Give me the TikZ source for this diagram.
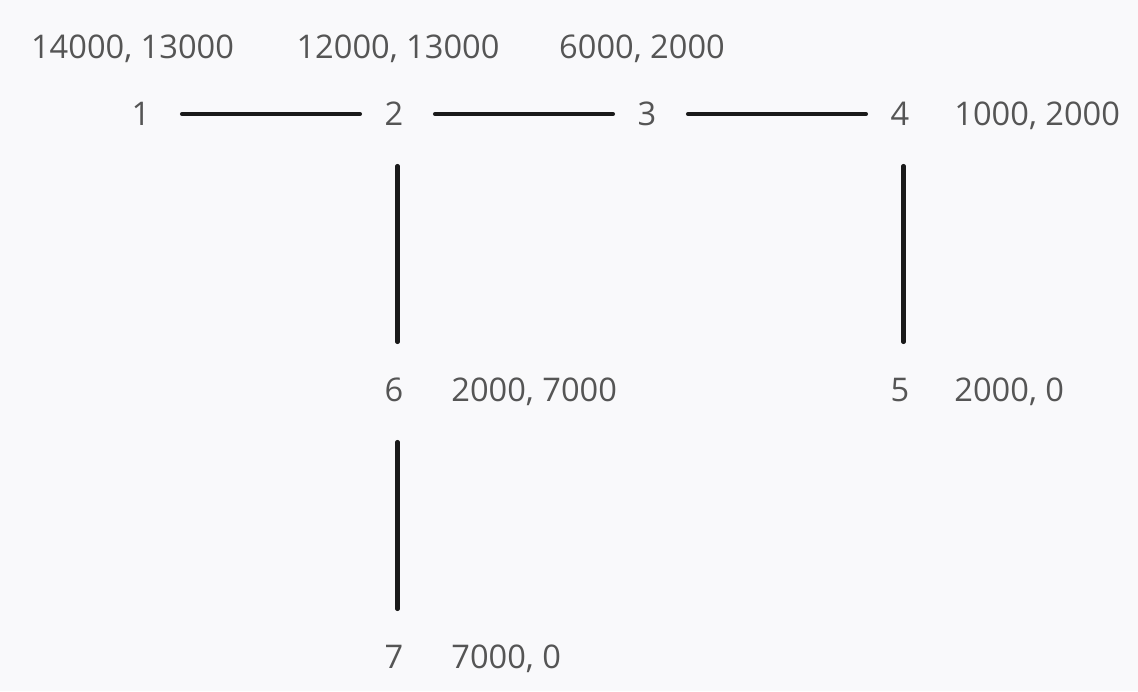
\documentclass[tikz,border=0pt]{standalone}
\usepackage{fontspec}
\setmainfont{Open Sans}
\usepackage{xcolor}
\usetikzlibrary{positioning}
\definecolor{bgcol}{HTML}{F9F9FB}
\definecolor{labelgray}{HTML}{555555}
\definecolor{linkblack}{HTML}{1A1A1A}

\begin{document}
\begin{tikzpicture}[node distance=253pt, auto, font=\fontsize{32.6}{39}\selectfont,
		vertex/.style={text=labelgray, minimum width=68pt, minimum height=96pt, inner sep=0pt},
		coords/.style={text=labelgray, inner sep=0pt, text depth=0pt},
		link/.style={draw=linkblack, line width=4.5pt, line cap=round}]
		% Background
		\fill[bgcol] (0,0) rectangle (1138pt,691pt);
		\useasboundingbox (0,0) rectangle (1138pt,691pt);

		% Top row
		\node[vertex] (n1) at (141pt,577pt) {1};
		\node[vertex, right of=n1] (n2) {2};
		\node[vertex, right of=n2] (n3) {3};
		\node[vertex, right of=n3] (n4) {4};

		% Lower nodes
		\node[vertex, below of=n2, yshift=-23pt] (n6) {6};
		\node[vertex, below of=n4, yshift=-23pt] (n5) {5};
		\node[vertex, below of=n6, yshift=-14pt] (n7) {7};

		% Coordinate labels
		\node[coords, node distance=67.5pt, above of=n1, xshift=-8.5pt] (c1) {14000, 13000};
		\node[coords, node distance=67.5pt, above of=n2, xshift=4pt] (c2) {12000, 13000};
		\node[coords, node distance=67.5pt, above of=n3, xshift=-5pt] (c3) {6000, 2000};
		\node[coords, right=20pt of n4] (c4) {1000, 2000};
		\node[coords, right=20pt of n5] (c5) {2000, 0};
		\node[coords, right=23pt of n6] (c6) {2000, 7000};
		\node[coords, right=23pt of n7] (c7) {7000, 0};

		% Lines between nodes
		\draw[link, shorten <=7pt] (n1) -- (n2);
		\draw[link, shorten <=7pt] (n2) -- (n3);
		\draw[link, shorten <=7pt] (n3) -- (n4);
		\draw[link, shorten <=4pt] ([xshift=3.5pt]n2.south) -- ([xshift=3.5pt]n6.north);
		\draw[link, shorten <=4pt] ([xshift=3.5pt]n4.south) -- ([xshift=3.5pt]n5.north);
		\draw[link, shorten <=4pt] ([xshift=3.5pt]n6.south) -- ([xshift=3.5pt]n7.north);
	\end{tikzpicture}
\end{document}
